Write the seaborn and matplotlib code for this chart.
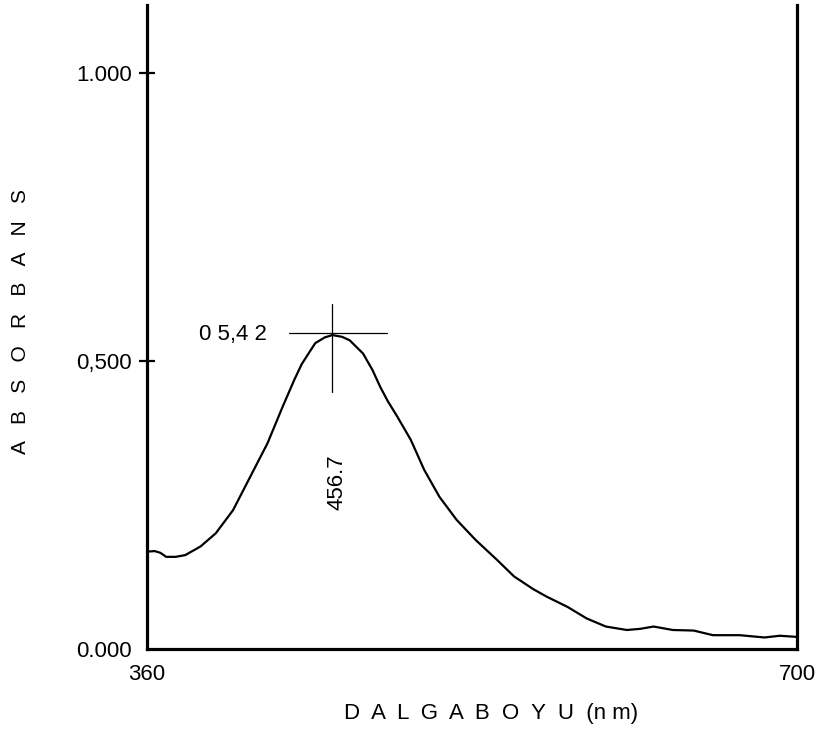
import matplotlib
matplotlib.use("Agg")
import matplotlib.pyplot as plt
import seaborn as sns
import pandas as pd

# ---- data ----
wavelength = [360, 364, 367, 370, 375, 380, 388, 396, 405, 414, 423, 431, 437, 441,
              448, 453, 457, 462, 466, 473, 478, 482, 486, 491, 498, 505, 513, 522,
              532, 543, 552, 562, 569, 580, 590, 600, 611, 618, 625, 635, 646, 656,
              670, 683, 691, 700]
absorbance = [0.169, 0.170, 0.167, 0.160, 0.160, 0.163, 0.178, 0.201, 0.241, 0.299,
              0.357, 0.421, 0.467, 0.495, 0.531, 0.541, 0.545, 0.542, 0.536, 0.513,
              0.484, 0.455, 0.430, 0.403, 0.363, 0.311, 0.264, 0.224, 0.189, 0.155,
              0.126, 0.104, 0.091, 0.073, 0.053, 0.039, 0.033, 0.035, 0.039, 0.033,
              0.032, 0.024, 0.024, 0.020, 0.023, 0.021]
peak_nm = 456.7
peak_abs = 0.542
peak_abs_label = "0 5,4 2"
peak_nm_label = "456.7"
xtick_values = [360, 700]
xtick_labels = ["360", "700"]
ytick_values = [0.0, 0.5, 1.0]
ytick_labels = ["0.000", "0,500", "1.000"]

df = pd.DataFrame({"nm": wavelength, "A": absorbance})

sns.set_theme(style="white")
plt.rcParams["font.family"] = ["Liberation Sans", "DejaVu Sans"]
plt.rcParams["text.color"] = "black"
plt.rcParams["axes.labelcolor"] = "black"
plt.rcParams["xtick.color"] = "black"
plt.rcParams["ytick.color"] = "black"

fig = plt.figure(figsize=(8.28, 7.32), dpi=100)
ax = fig.add_axes([147 / 828, 83 / 732, 650 / 828, 644 / 732])

sns.lineplot(data=df, x="nm", y="A", ax=ax, color="black", linewidth=1.6)

# crosshair at the peak
ax.plot([peak_nm - 22.5, peak_nm + 28.8], [peak_abs + 0.006, peak_abs + 0.006],
        color="black", lw=0.9)
ax.plot([peak_nm, peak_nm], [peak_abs - 0.096, peak_abs + 0.057], color="black", lw=0.9)
ax.text(peak_nm - 34, peak_abs + 0.004, peak_abs_label, ha="right", va="center",
        fontsize=16, color="black")
ax.text(peak_nm + 2.5, 0.29, peak_nm_label, ha="center", va="center",
        rotation=90, fontsize=16, color="black")

ax.set_xlim(360, 700)
ax.set_ylim(0, 644 / 576)

for s in ["left", "right", "bottom"]:
    ax.spines[s].set_visible(True)
    ax.spines[s].set_color("black")
    ax.spines[s].set_linewidth(2.3)
ax.spines["top"].set_visible(False)

ax.set_xticks(xtick_values)
ax.set_xticklabels(xtick_labels, fontsize=16)
ax.tick_params(axis="x", length=0, pad=11, colors="black")

ax.set_yticks(ytick_values)
ax.set_yticklabels(ytick_labels, fontsize=16)
ax.tick_params(axis="y", direction="inout", length=12, width=1.6, pad=5,
               colors="black", left=True)
ax.yaxis.get_major_ticks()[0].tick1line.set_visible(False)

ax.set_xlabel("D  A  L  G  A  B  O  Y  U  (n m)", fontsize=16, color="black")
ax.xaxis.set_label_coords((491 - 147) / 650, (649 - 713) / 644)
ax.xaxis.label.set_va("center")

ax.set_ylabel("A   B   S   O   R   B   A   N   S", fontsize=15, color="black")
ax.yaxis.set_label_coords((20 - 147) / 650, (649 - 321) / 644)
ax.yaxis.label.set_va("center")

ax.grid(False)
fig.savefig("out.png", dpi=100, facecolor="white")
